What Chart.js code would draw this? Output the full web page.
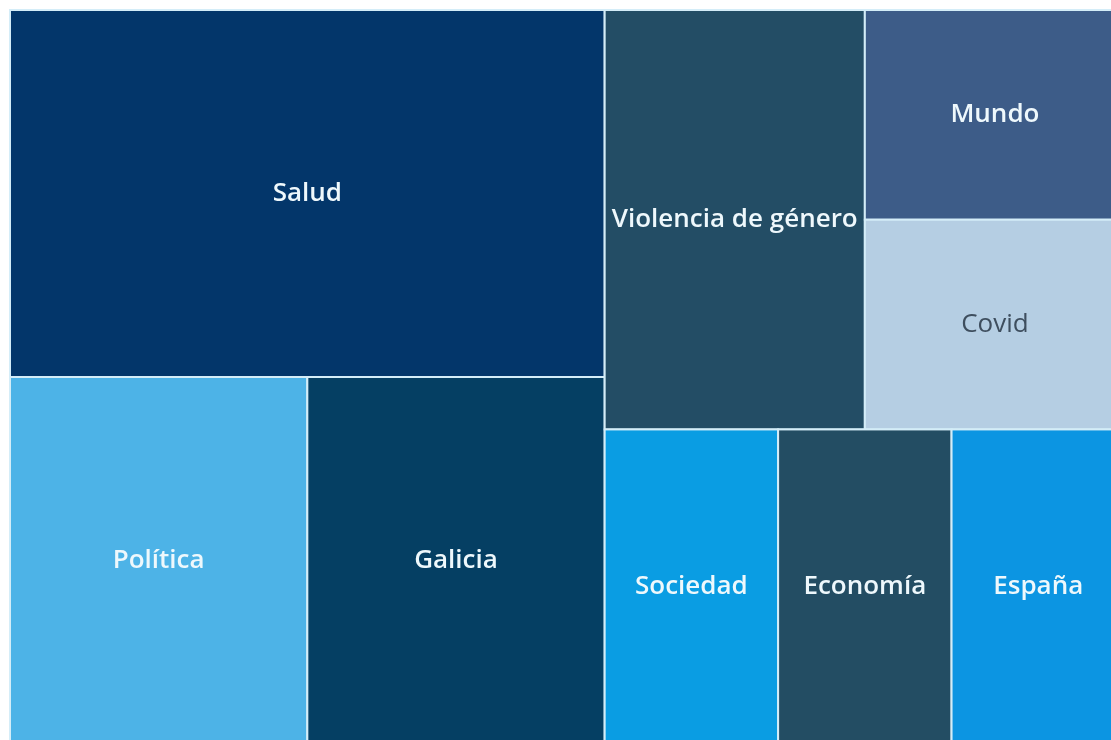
<!DOCTYPE html>
<html>
<head>
<meta charset="utf-8">
<script src="https://cdn.jsdelivr.net/npm/chart.js@4/dist/chart.umd.min.js"></script>
<style>
  html, body { margin: 0; padding: 0; background: #fff; overflow: hidden; }
  #wrap { width: 1135px; height: 754px; }
</style>
</head>
<body>
<div id="wrap"><canvas id="tree"></canvas></div>
<script>
// Topics and their weights
const topics = ['Salud', 'Política', 'Galicia', 'Violencia de género', 'Mundo', 'Covid', 'Sociedad', 'Economía', 'España'];
const counts = [8, 4, 4, 4, 2, 2, 2, 2, 2];

const fills = ['#03366a', '#4db3e7', '#053f63', '#234d65', '#3d5c88', '#b5cee3', '#0a9de3', '#234d63', '#0c95e2'];
const textColors = ['#eef8fc', '#eef8fc', '#eef8fc', '#eef8fc', '#eef8fc', '#3e4e5e', '#eef8fc', '#eef8fc', '#eef8fc'];
const textWeights = [600, 600, 600, 600, 600, 400, 600, 600, 600];

// Plot extent in data units (kept proportional to the drawing area)
const extentX = 1115;
const extentY = 734;

// Binary partition layout (same split rule as d3.treemapBinary), in data units
function binaryLayout(values, x0, y0, x1, y1) {
  const sums = [0];
  values.forEach((v, i) => sums.push(sums[i] + v));
  const rects = new Array(values.length);

  function part(i, j, value, x0, y0, x1, y1) {
    if (i >= j - 1) {
      rects[i] = { x0, y0, x1, y1 };
      return;
    }
    const offset = sums[i];
    const target = value / 2 + offset;
    let k = i + 1, hi = j - 1;
    while (k < hi) {
      const mid = (k + hi) >>> 1;
      if (sums[mid] < target) k = mid + 1; else hi = mid;
    }
    if ((target - sums[k - 1]) < (sums[k] - target) && i + 1 < k) --k;
    const left = sums[k] - offset;
    const right = value - left;
    if ((x1 - x0) > (y1 - y0)) {
      const xk = (x0 * right + x1 * left) / value;
      part(i, k, left, x0, y0, xk, y1);
      part(k, j, right, xk, y0, x1, y1);
    } else {
      const yk = (y0 * right + y1 * left) / value;
      part(i, k, left, x0, y0, x1, yk);
      part(k, j, right, x0, yk, x1, y1);
    }
  }

  part(0, values.length, sums[values.length], x0, y0, x1, y1);
  return rects;
}

const treemapPlugin = {
  id: 'treemap',
  afterDatasetsDraw(chart) {
    const { ctx, scales: { x, y } } = chart;
    const rects = binaryLayout(counts, x.min, y.min, x.max, y.max);

    rects.forEach((r, i) => {
      const px0 = x.getPixelForValue(r.x0);
      const px1 = x.getPixelForValue(r.x1);
      const py0 = y.getPixelForValue(r.y0);
      const py1 = y.getPixelForValue(r.y1);

      ctx.save();
      ctx.fillStyle = fills[i];
      ctx.fillRect(px0, py0, px1 - px0, py1 - py0);
      ctx.strokeStyle = '#d4edf8';
      ctx.lineWidth = 2;
      ctx.strokeRect(px0, py0, px1 - px0, py1 - py0);

      ctx.fillStyle = textColors[i];
      ctx.font = textWeights[i] + ' 26px "Open Sans", "Noto Sans", sans-serif';
      ctx.textAlign = 'center';
      ctx.textBaseline = 'middle';
      ctx.fillText(topics[i], (px0 + px1) / 2, (py0 + py1) / 2);
      ctx.restore();
    });
  }
};

new Chart(document.getElementById('tree'), {
  type: 'scatter',
  data: { datasets: [{ data: [] }] },
  options: {
    responsive: true,
    maintainAspectRatio: false,
    animation: false,
    layout: { padding: { left: 10, top: 10, right: 10, bottom: 10 } },
    plugins: { legend: { display: false }, tooltip: { enabled: false } },
    scales: {
      x: { type: 'linear', min: 0, max: extentX, display: false },
      y: { type: 'linear', min: 0, max: extentY, reverse: true, display: false }
    }
  },
  plugins: [treemapPlugin]
});
</script>
</body>
</html>
